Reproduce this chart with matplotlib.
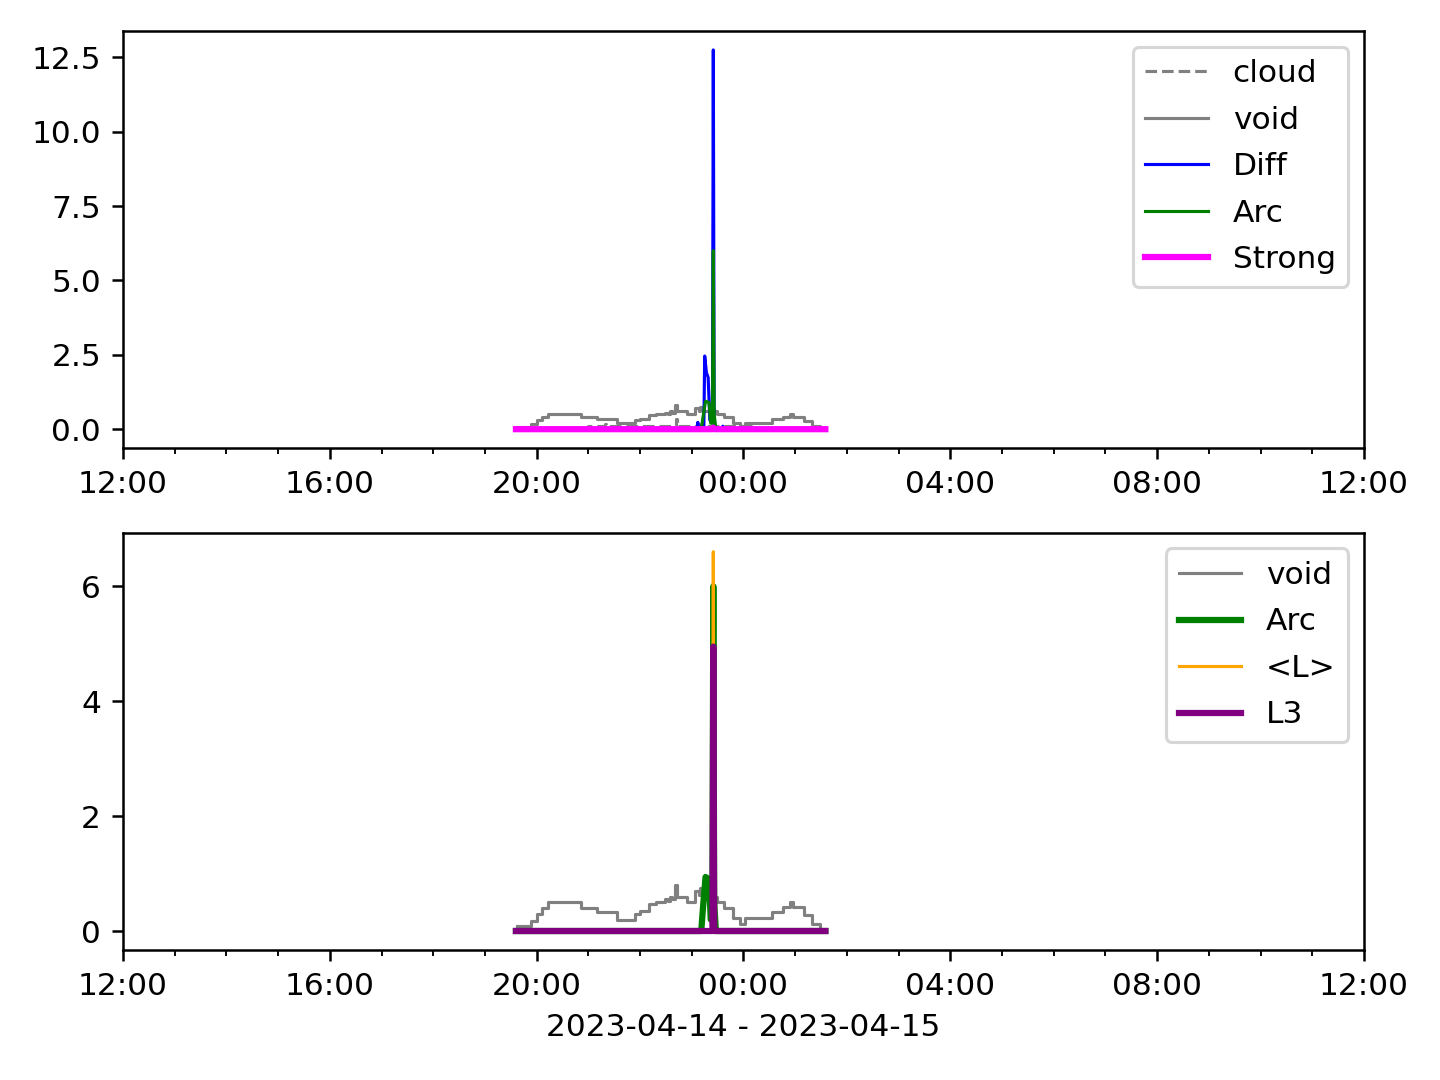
import matplotlib
matplotlib.use("Agg")
import matplotlib.pyplot as plt
import matplotlib.dates as mdates
import pandas as pd

D1 = "2023-04-14 "
D2 = "2023-04-15 "

void_t = [D1 + t for t in ["19:37", "19:54", "20:00", "20:06", "20:13", "20:52", "21:10", "21:33",
                           "21:54", "22:00", "22:10", "22:19", "22:29", "22:33", "22:35", "22:37",
                           "22:41", "22:43", "22:46", "22:54", "23:04", "23:08", "23:10", "23:13",
                           "23:29", "23:37", "23:48", "23:56"]] + \
         [D2 + t for t in ["00:02", "00:33", "00:46", "00:54", "00:58", "01:10", "01:19", "01:29"]]
void_v = [0.09, 0.18, 0.30, 0.40, 0.51, 0.40, 0.33, 0.20,
          0.30, 0.35, 0.47, 0.50, 0.56, 0.52, 0.60, 0.55,
          0.80, 0.60, 0.60, 0.50, 0.70, 0.62, 0.75, 0.60,
          0.50, 0.40, 0.22, 0.12,
          0.22, 0.33, 0.42, 0.51, 0.42, 0.27, 0.12, 0.03]

cloud_t = [D1 + t for t in ["19:36", "21:00", "21:18", "21:19", "21:20", "22:41", "22:42", "22:43",
                            "23:06", "23:07", "23:08"]] + [D2 + t for t in ["00:10", "01:35"]]
cloud_v = [0.04, 0.10, 0.10, 0.17, 0.10, 0.10, 0.33, 0.10, 0.10, 0.18, 0.10, 0.04, 0.04]

diff_t = [D1 + t for t in ["19:36", "23:06", "23:07", "23:08", "23:14", "23:15", "23:17", "23:19",
                           "23:21", "23:24", "23:25", "23:26", "23:28", "23:35", "23:36", "23:37"]] + [D2 + "01:35"]
diff_v = [0, 0, 0.23, 0, 0, 2.46, 1.9, 1.74, 0.3, 0.3, 12.75, 0.2, 0, 0, 0.1, 0, 0]

arc_t = [D1 + t for t in ["19:36", "23:11", "23:13", "23:16", "23:20", "23:22", "23:24", "23:25",
                          "23:26", "23:28"]] + [D2 + "01:35"]
arc_v = [0, 0, 0.4, 0.94, 0.9, 0.2, 0.2, 6.0, 0.5, 0, 0]

strong_t = [D1 + t for t in ["19:36", "23:24", "23:25", "23:26"]] + [D2 + "01:35"]
strong_v = [0, 0, 0.05, 0, 0]

meanL_t = [D1 + t for t in ["19:36", "23:24", "23:25", "23:26"]] + [D2 + "01:35"]
meanL_v = [0, 0, 6.6, 0, 0]

l3_t = [D1 + t for t in ["19:36", "23:24", "23:25", "23:26"]] + [D2 + "01:35"]
l3_v = [0, 0, 4.95, 0, 0]

xlim = (pd.Timestamp("2023-04-14 12:00"), pd.Timestamp("2023-04-15 12:00"))

fig, (ax1, ax2) = plt.subplots(2, 1, figsize=(6.4, 4.8), dpi=225)
fig.subplots_adjust(left=0.0854, right=0.9472, top=0.9713, bottom=0.1204, hspace=0.203)

ax1.plot(pd.to_datetime(cloud_t), cloud_v, color="gray", ls="--", lw=1, label="cloud", drawstyle="steps-post")
ax1.plot(pd.to_datetime(void_t), void_v, color="gray", lw=1, label="void", drawstyle="steps-post")
ax1.plot(pd.to_datetime(diff_t), diff_v, color="blue", lw=1, label="Diff")
ax1.plot(pd.to_datetime(arc_t), arc_v, color="green", lw=1, label="Arc")
ax1.plot(pd.to_datetime(strong_t), strong_v, color="magenta", lw=2, label="Strong")
ax1.legend(loc="upper right", labelspacing=0.56)

ax2.plot(pd.to_datetime(void_t), void_v, color="gray", lw=1, label="void", drawstyle="steps-post")
ax2.plot(pd.to_datetime(arc_t), arc_v, color="green", lw=2, label="Arc")
ax2.plot(pd.to_datetime(meanL_t), meanL_v, color="orange", lw=1, label="<L>")
ax2.plot(pd.to_datetime(l3_t), l3_v, color="purple", lw=2, label="L3")
ax2.legend(loc="upper right", labelspacing=0.56)
ax2.set_xlabel("2023-04-14 - 2023-04-15")

for ax in (ax1, ax2):
    ax.set_xlim(*xlim)
    ax.xaxis.set_major_locator(mdates.HourLocator(byhour=range(0, 24, 4)))
    ax.xaxis.set_minor_locator(mdates.HourLocator())
    ax.xaxis.set_major_formatter(mdates.DateFormatter("%H:%M"))

fig.savefig("out.png", dpi=225)
